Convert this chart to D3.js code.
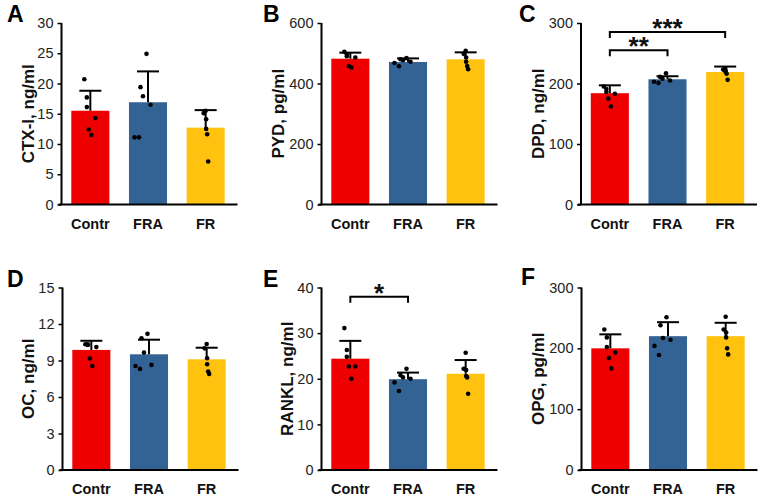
<!DOCTYPE html>
<html><head><meta charset="utf-8">
<script src="https://cdn.jsdelivr.net/npm/d3@7"></script>
<style>body{margin:0;background:#fff}svg{display:block}text{font-family:"Liberation Sans",Arial,sans-serif}</style>
</head><body>
<svg id="c" width="764" height="501"></svg>
<script>
const groups = ["Contr", "FRA", "FR"];
const colors = ["#ee0000", "#336394", "#ffc20e"];

const ctxMean = [15.5, 16.9, 12.7];
const ctxSD = [3.3, 5.1, 2.9];
const ctxPoints = [[20.7, 17.7, 16.1, 14.3, 12.4, 11.5], [24.9, 19.4, 17.9, 16.5, 11.1, 11.1], [15.5, 15.1, 14.1, 12.5, 11.6, 7.1]];
const ctxTicks = [0, 5, 10, 15, 20, 25, 30];

const pydMean = [482, 471, 480];
const pydSD = [20, 12, 23];
const pydPoints = [[505, 497, 490, 486, 458, 453], [484, 480, 477, 472, 468, 457], [508, 498, 486, 472, 458, 447]];
const pydTicks = [0, 200, 400, 600];

const dpdMean = [184, 207, 219];
const dpdSD = [13, 5, 9];
const dpdPoints = [[195, 191, 186, 183, 175, 162], [217, 211, 208, 205, 203, 201], [225, 223, 221, 219, 216, 206]];
const dpdTicks = [0, 100, 200, 300];

const ocMean = [9.87, 9.51, 9.1];
const ocSD = [0.75, 1.2, 0.95];
const ocPoints = [[10.34, 10.34, 10.28, 10.1, 9.16, 8.55], [11.19, 10.83, 9.65, 8.64, 8.55, 8.31], [10.36, 10.0, 9.19, 8.69, 8.09, 7.9]];
const ocTicks = [0, 3, 6, 9, 12, 15];

const ranklMean = [24.4, 19.9, 21.1];
const ranklSD = [3.9, 1.45, 3.0];
const ranklPoints = [[31.1, 26.3, 24.8, 22.7, 22.7, 20.0], [22.2, 20.8, 20.3, 20.0, 19.2, 17.3], [25.7, 22.2, 21.9, 20.6, 20.3, 16.7]];
const ranklTicks = [0, 10, 20, 30, 40];

const opgMean = [200, 220, 220];
const opgSD = [23, 23, 22];
const opgPoints = [[231, 218, 202, 193, 184, 167], [251, 238, 217, 214, 204, 189], [252, 231, 226, 218, 200, 190]];
const opgTicks = [0, 100, 200, 300];

const panelLetters = ["A", "B", "C", "D", "E", "F"];
const yLabels = ["CTX-I, ng/ml", "PYD, pg/ml", "DPD, ng/ml", "OC, ng/ml", "RANKL, ng/ml", "OPG, pg/ml"];

// significance annotations: [from, to, bracket value, label]
const sigC = [["Contr", "FRA", 255, "**"], ["Contr", "FR", 285, "***"]];
const sigE = [["Contr", "FRA", 38, "*"]];

// dot jitter (px), style only
const jitter = [[-6, -3.5, -3.5, 5, -1.5, 1], [-1.5, -7.5, -5, 2.5, -13.5, -9], [0, -2, 0.5, 0.5, 1.5, 2.5]];

const panels = [
  {mean: ctxMean, sd: ctxSD, pts: ctxPoints, ticks: ctxTicks, ax: 61.5, top: 23, bot: 204.5, labDx: -33.5, letX: 7, letY: 22, sig: []},
  {mean: pydMean, sd: pydSD, pts: pydPoints, ticks: pydTicks, ax: 321.5, top: 23, bot: 204.5, labDx: -43.5, letX: 263, letY: 22, sig: []},
  {mean: dpdMean, sd: dpdSD, pts: dpdPoints, ticks: dpdTicks, ax: 581, top: 23, bot: 204.5, labDx: -43, letX: 519, letY: 22, sig: sigC},
  {mean: ocMean, sd: ocSD, pts: ocPoints, ticks: ocTicks, ax: 62.5, top: 287.5, bot: 470, labDx: -34.5, letX: 7, letY: 287, sig: []},
  {mean: ranklMean, sd: ranklSD, pts: ranklPoints, ticks: ranklTicks, ax: 321.5, top: 287.5, bot: 470, labDx: -34.5, letX: 263, letY: 287, sig: sigE},
  {mean: opgMean, sd: opgSD, pts: opgPoints, ticks: opgTicks, ax: 581.5, top: 287.5, bot: 470, labDx: -43.5, letX: 521, letY: 285, sig: []}
];

const svg = d3.select("#c");

panels.forEach((p, pi) => {
  const g = svg.append("g");
  const y = d3.scaleLinear().domain([0, d3.max(p.ticks)]).range([p.bot, p.top]);
  const x = d3.scaleBand().domain(groups).range([p.ax, p.ax + 173]).paddingInner(0.34).paddingOuter(0.17);
  const bw = x.bandwidth();

  g.selectAll("rect.bar").data(groups).join("rect")
    .attr("x", d => x(d)).attr("width", bw)
    .attr("y", (d, i) => y(p.mean[i])).attr("height", (d, i) => p.bot - y(p.mean[i]))
    .attr("fill", (d, i) => colors[i]);

  groups.forEach((gr, i) => {
    const cx = x(gr) + bw / 2;
    const yt = y(p.mean[i] + p.sd[i]);
    g.append("line").attr("x1", cx).attr("x2", cx).attr("y1", y(p.mean[i])).attr("y2", yt)
      .attr("stroke", "#000").attr("stroke-width", 2);
    g.append("line").attr("x1", cx - 11).attr("x2", cx + 11).attr("y1", yt).attr("y2", yt)
      .attr("stroke", "#000").attr("stroke-width", 2);
    g.selectAll(null).data(p.pts[i]).join("circle")
      .attr("cx", (v, k) => cx + jitter[i][k]).attr("cy", v => y(v)).attr("r", 2.3).attr("fill", "#000");
  });

  const ya = g.append("g").attr("transform", `translate(${p.ax},0)`)
    .call(d3.axisLeft(y).tickValues(p.ticks).tickSize(4).tickPadding(4).tickFormat(d3.format("d")));
  ya.select(".domain").remove();
  ya.selectAll(".tick line").attr("stroke", "#000").attr("stroke-width", 1.5);
  ya.selectAll(".tick text").attr("font-size", 14.5).attr("fill", "#222").attr("font-family", '"Liberation Sans",Arial,sans-serif');
  g.append("line").attr("x1", p.ax).attr("x2", p.ax).attr("y1", p.top).attr("y2", p.bot)
    .attr("stroke", "#000").attr("stroke-width", 2);
  g.append("line").attr("x1", p.ax - 3).attr("x2", p.ax + 176).attr("y1", p.bot).attr("y2", p.bot)
    .attr("stroke", "#000").attr("stroke-width", 2);

  g.selectAll("text.cat").data(groups).join("text")
    .attr("x", d => x(d) + bw / 2).attr("y", p.bot + 24)
    .attr("text-anchor", "middle").attr("font-size", 14.5).attr("font-weight", "bold").attr("fill", "#111")
    .text(d => d);

  const lx = p.ax + p.labDx, ly = (p.top + p.bot) / 2;
  g.append("text").attr("transform", `translate(${lx},${ly}) rotate(-90)`)
    .attr("text-anchor", "middle").attr("dy", "0.35em")
    .attr("font-size", 17).attr("font-weight", "bold").attr("fill", "#111")
    .text(yLabels[pi]);

  g.append("text").attr("x", p.letX).attr("y", p.letY)
    .attr("font-size", 23).attr("font-weight", "bold").attr("fill", "#000")
    .text(panelLetters[pi]);

  p.sig.forEach(s => {
    const x1 = x(s[0]) + bw / 2, x2 = x(s[1]) + bw / 2, yb = y(s[2]);
    g.append("path").attr("d", `M${x1},${yb + 6}V${yb}H${x2}V${yb + 6}`)
      .attr("fill", "none").attr("stroke", "#000").attr("stroke-width", 2);
    g.append("text").attr("x", (x1 + x2) / 2).attr("y", yb + 5)
      .attr("text-anchor", "middle").attr("font-size", 26).attr("font-weight", "bold").attr("fill", "#111")
      .text(s[3]);
  });
});
</script>
</body></html>
